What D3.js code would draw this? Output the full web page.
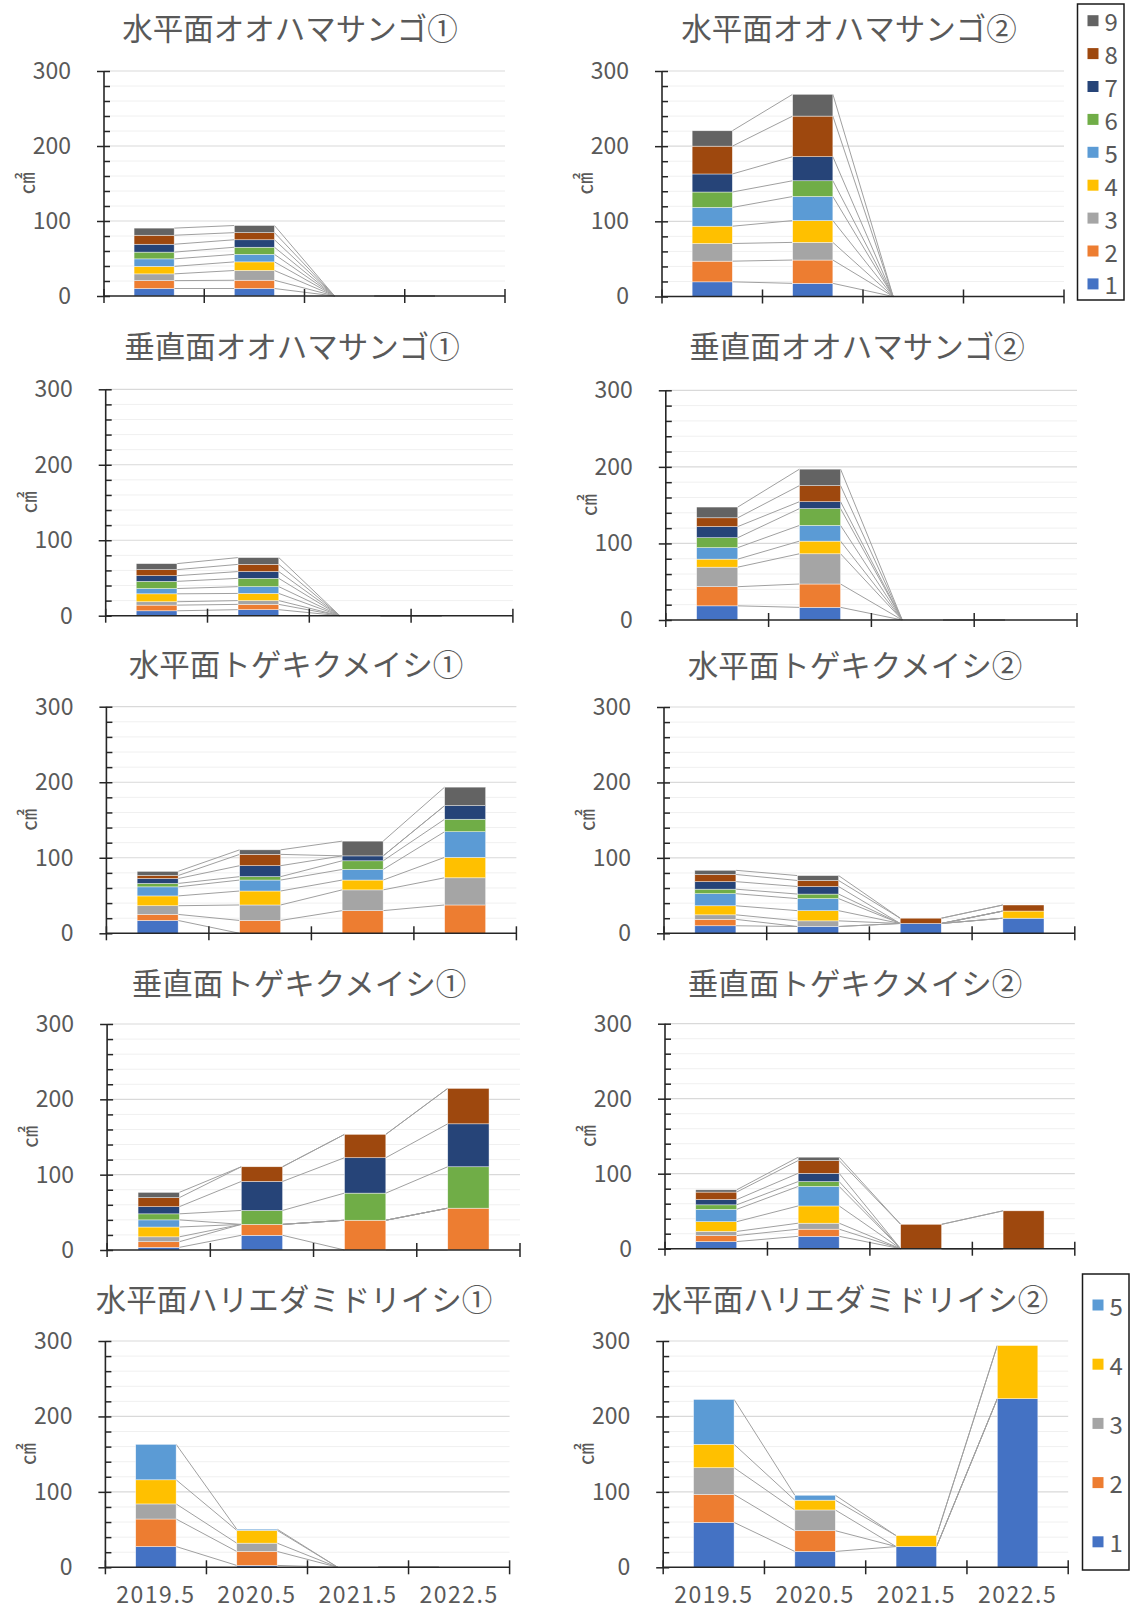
<!DOCTYPE html>
<html>
<head>
<meta charset="utf-8">
<script src="https://cdn.jsdelivr.net/npm/d3@7"></script>
<style>
  body { margin: 0; background: #fff; }
  text { font-family: "Noto Sans CJK JP", "Noto Sans", sans-serif; }
</style>
</head>
<body>
<svg id="chart" width="1132" height="1612"></svg>
<script>
// ---- data ----------------------------------------------------------
const categories = ["2019.5", "2020.5", "2021.5", "2022.5"];
const seriesNames9 = ["1", "2", "3", "4", "5", "6", "7", "8", "9"];
const seriesNames5 = ["1", "2", "3", "4", "5"];
const seriesColors = ["#4472C4", "#ED7D31", "#A5A5A5", "#FFC000", "#5B9BD5",
                      "#70AD47", "#264478", "#9E480E", "#636363"];
const yTickValues = [0, 100, 200, 300];

const titles = [
  "水平面オオハマサンゴ①", "水平面オオハマサンゴ②",
  "垂直面オオハマサンゴ①", "垂直面オオハマサンゴ②",
  "水平面トゲキクメイシ①", "水平面トゲキクメイシ②",
  "垂直面トゲキクメイシ①", "垂直面トゲキクメイシ②",
  "水平面ハリエダミドリイシ①", "水平面ハリエダミドリイシ②"
];

// each row = one colony number (1, 2, 3 ...), each column = one survey (categories)
const horizOhama1 = [
  [10, 10, 0, 0], [10.5, 11, 0, 0], [9, 13, 0, 0], [10, 11.5, 0, 0], [10, 10, 0, 0],
  [9, 9.5, 0, 0], [10.5, 10, 0, 0], [12, 9.5, 0, 0], [9.5, 9.5, 0, 0]
];
const horizOhama2 = [
  [19.5, 17.5, 0, 0], [27.5, 31, 0, 0], [23.5, 23.5, 0, 0], [23, 29, 0, 0], [25, 32, 0, 0],
  [20.5, 21, 0, 0], [24, 32, 0, 0], [37, 54, 0, 0], [20.5, 29, 0, 0]
];
const vertOhama1 = [
  [6.5, 8, 0, 0], [7.5, 7, 0, 0], [4.5, 5, 0, 0], [10.5, 9.5, 0, 0], [7, 9, 0, 0],
  [9.5, 11, 0, 0], [7.5, 9, 0, 0], [8, 9.5, 0, 0], [8, 9, 0, 0]
];
const vertOhama2 = [
  [18.5, 16.5, 0, 0], [25, 30.5, 0, 0], [25.5, 39.5, 0, 0], [10.5, 16.5, 0, 0], [15, 20.5, 0, 0],
  [13, 22, 0, 0], [14.5, 9, 0, 0], [11.5, 21, 0, 0], [14, 21.5, 0, 0]
];
const horizTogekiku1 = [
  [17, 0, 0, 0], [8, 17, 30, 37.5], [11.5, 20.5, 27.5, 36], [13, 18.5, 13, 27], [12, 14.5, 14, 34],
  [4.5, 4.5, 11.5, 16.5], [6.5, 14.5, 6.5, 18], [4, 15, 0, 0], [5.5, 6, 19.5, 24.5]
];
const horizTogekiku2 = [
  [10, 9, 13, 20], [8.5, 0, 0, 0], [6, 7.5, 0, 0], [12, 13.5, 0, 9.5], [16, 16, 0, 0],
  [6, 6, 0, 0], [10, 10, 0, 0], [9.5, 8, 7, 8], [5.5, 6.5, 0, 0]
];
const vertTogekiku1 = [
  [3.5, 19.5, 0, 0], [7.5, 14.5, 39.5, 55.5], [6.5, 0, 0, 0], [13, 0, 0, 0], [9.5, 0, 0, 0],
  [8, 18.5, 36, 55], [9.5, 38.5, 47, 57], [12, 19.5, 31, 47], [7, 0, 0, 0]
];
const vertTogekiku2 = [
  [9.5, 16.5, 0, 0], [8, 9.5, 0, 0], [5.5, 8, 0, 0], [13, 23, 0, 0], [16.5, 26, 0, 0],
  [6, 6.5, 0, 0], [7, 11, 0, 0], [10, 17, 32.5, 50.5], [3, 4.5, 0, 0]
];
const horizHarieda1 = [
  [27.5, 2.5, 0, 0], [36.5, 18.5, 0, 0], [20, 11, 0, 0], [32, 17, 0, 0], [47, 1.5, 0, 0]
];
const horizHarieda2 = [
  [59.5, 21, 27.5, 223.5], [37, 27.5, 0, 0], [35.5, 27.5, 0, 0], [31, 13, 14.5, 70.5], [59.5, 6.5, 0, 0]
];

const panelValues = [
  horizOhama1, horizOhama2, vertOhama1, vertOhama2,
  horizTogekiku1, horizTogekiku2, vertTogekiku1, vertTogekiku2,
  horizHarieda1, horizHarieda2
];

// ---- layout: plot frame of each panel and title centre ---------------
const frames = [
  { x0: 104,   x1: 505,   y0: 71,    y1: 296,    tx: 290, ty: 27 },
  { x0: 662,   x1: 1064,  y0: 71,    y1: 296.5,  tx: 849, ty: 27 },
  { x0: 105.7, x1: 512.9, y0: 389.3, y1: 615.7,  tx: 292, ty: 345 },
  { x0: 665.8, x1: 1077,  y0: 390.3, y1: 620,    tx: 857, ty: 345 },
  { x0: 106.4, x1: 516.4, y0: 706.7, y1: 933.3,  tx: 296, ty: 663 },
  { x0: 664,   x1: 1074.8,y0: 707,   y1: 933.3,  tx: 855, ty: 664 },
  { x0: 107.1, x1: 520,   y0: 1024,  y1: 1250,   tx: 299, ty: 982 },
  { x0: 665,   x1: 1074.8,y0: 1023.7,y1: 1248.7, tx: 855, ty: 982 },
  { x0: 105.4, x1: 509.6, y0: 1341,  y1: 1567.3, tx: 294, ty: 1298 },
  { x0: 663.2, x1: 1068.2,y0: 1341,  y1: 1567.3, tx: 850, ty: 1298 }
];

const textColor = "#595959";
const axisColor = "#262626";

const svg = d3.select("#chart");
svg.append("rect").attr("width", 1132).attr("height", 1612).attr("fill", "#fff");

function drawPanel(values, f, title, showCategoryLabels) {
  const g = svg.append("g");
  const nSeries = values.length;

  const x = d3.scaleBand().domain(categories).range([f.x0, f.x1])
    .paddingInner(0.6).paddingOuter(0.3);
  const y = d3.scaleLinear().domain([0, 300]).range([f.y1, f.y0]);
  const bw = x.bandwidth();

  // title
  g.append("text")
    .attr("x", f.tx).attr("y", f.ty)
    .attr("text-anchor", "middle").attr("dominant-baseline", "central")
    .attr("font-size", 30.5).attr("fill", textColor)
    .text(title);

  // gridlines: light every 20, stronger every 100
  const minorVals = d3.range(20, 301, 20).filter(v => v % 100 !== 0);
  g.append("g").selectAll("line").data(minorVals).join("line")
    .attr("x1", f.x0).attr("x2", f.x1)
    .attr("y1", d => y(d)).attr("y2", d => y(d))
    .attr("stroke", "#f0f0f0").attr("stroke-width", 1);
  g.append("g").selectAll("line").data([100, 200, 300]).join("line")
    .attr("x1", f.x0).attr("x2", f.x1)
    .attr("y1", d => y(d)).attr("y2", d => y(d))
    .attr("stroke", "#d9d9d9").attr("stroke-width", 1.2);

  // stacked layers
  const rows = categories.map((c, i) => {
    const o = { cat: c };
    values.forEach((s, k) => { o[k] = s[i]; });
    return o;
  });
  const layers = d3.stack().keys(d3.range(nSeries))(rows);

  // series lines joining the top of each segment between neighbouring bars
  const links = [];
  layers.forEach(layer => {
    for (let i = 0; i < categories.length - 1; i++) {
      links.push({
        x1: x(categories[i]) + bw, y1: y(layer[i][1]),
        x2: x(categories[i + 1]), y2: y(layer[i + 1][1])
      });
    }
  });
  g.append("g").selectAll("line").data(links).join("line")
    .attr("x1", d => d.x1).attr("y1", d => d.y1)
    .attr("x2", d => d.x2).attr("y2", d => d.y2)
    .attr("stroke", "#a0a0a0").attr("stroke-width", 1);

  // bars
  g.append("g").selectAll("g").data(layers).join("g")
    .attr("fill", (d, k) => seriesColors[k])
    .selectAll("rect").data(d => d).join("rect")
    .attr("x", d => x(d.data.cat))
    .attr("width", bw)
    .attr("y", d => y(d[1]))
    .attr("height", d => Math.max(0, y(d[0]) - y(d[1])))
    .attr("stroke", "#ffffff").attr("stroke-width", 0.6).attr("stroke-opacity", 0.7);

  // value axis: labels + outer major ticks
  const yAxis = g.append("g")
    .attr("transform", `translate(${f.x0},0)`)
    .call(d3.axisLeft(y).tickValues(yTickValues).tickSize(7).tickPadding(26).tickSizeOuter(0));
  yAxis.select(".domain").remove();
  yAxis.selectAll(".tick line").attr("stroke", axisColor).attr("stroke-width", 1.5);
  yAxis.selectAll(".tick text").attr("font-size", 23).attr("fill", textColor)
    .attr("font-family", "\"Noto Sans CJK JP\", sans-serif");

  // inner ticks every 20
  const yInner = g.append("g")
    .attr("transform", `translate(${f.x0},0)`)
    .call(d3.axisRight(y).tickValues(d3.range(0, 301, 20)).tickSize(6).tickSizeOuter(0).tickFormat(""));
  yInner.select(".domain").remove();
  yInner.selectAll(".tick line").attr("stroke", axisColor).attr("stroke-width", 1.5);

  // value axis line
  g.append("line")
    .attr("x1", f.x0).attr("x2", f.x0).attr("y1", f.y0).attr("y2", f.y1)
    .attr("stroke", axisColor).attr("stroke-width", 1.6);

  // unit label
  g.append("text")
    .attr("transform", `translate(${f.x0 - 80},${(f.y0 + f.y1) / 2}) rotate(-90)`)
    .attr("text-anchor", "middle").attr("dominant-baseline", "central")
    .attr("font-size", 22).attr("fill", textColor)
    .text("㎠");

  // category axis
  const step = x.step();
  const bounds = d3.range(categories.length + 1).map(i => f.x0 + i * step);
  g.append("line")
    .attr("x1", f.x0).attr("x2", f.x1).attr("y1", f.y1).attr("y2", f.y1)
    .attr("stroke", axisColor).attr("stroke-width", 1.6);
  g.append("g").selectAll("line").data(bounds).join("line")
    .attr("x1", d => d).attr("x2", d => d)
    .attr("y1", f.y1 - 7).attr("y2", f.y1 + 7)
    .attr("stroke", axisColor).attr("stroke-width", 1.5);

  if (showCategoryLabels) {
    const xAxis = g.append("g")
      .attr("transform", `translate(0,${f.y1})`)
      .call(d3.axisBottom(x).tickSize(0).tickPadding(19));
    xAxis.select(".domain").remove();
    xAxis.selectAll(".tick text").attr("font-size", 23).attr("fill", textColor)
      .attr("letter-spacing", 1.5)
      .attr("font-family", "\"Noto Sans CJK JP\", sans-serif");
  }
}

panelValues.forEach((vals, i) => drawPanel(vals, frames[i], titles[i], i >= 8));

// ---- legends ---------------------------------------------------------
function drawLegend(names, box, firstY, gap) {
  const g = svg.append("g");
  g.append("rect")
    .attr("x", box.x).attr("y", box.y).attr("width", box.w).attr("height", box.h)
    .attr("fill", "#fff").attr("stroke", "#1a1a1a").attr("stroke-width", 1.5);
  const items = names.slice().reverse();
  const row = g.selectAll("g").data(items).join("g")
    .attr("transform", (d, i) => `translate(${box.x + 10},${firstY + i * gap})`);
  row.append("rect")
    .attr("x", 0).attr("y", -5.5).attr("width", 11).attr("height", 11)
    .attr("fill", d => seriesColors[names.indexOf(d)]);
  row.append("text")
    .attr("x", 17).attr("y", 0).attr("dominant-baseline", "central")
    .attr("font-size", 24).attr("fill", textColor)
    .text(d => d);
}

drawLegend(seriesNames9, { x: 1077.5, y: 4, w: 46.5, h: 296 }, 20.7, 32.9);
drawLegend(seriesNames5, { x: 1082.5, y: 1274, w: 46.5, h: 296 }, 1305, 59.2);
</script>
</body>
</html>
